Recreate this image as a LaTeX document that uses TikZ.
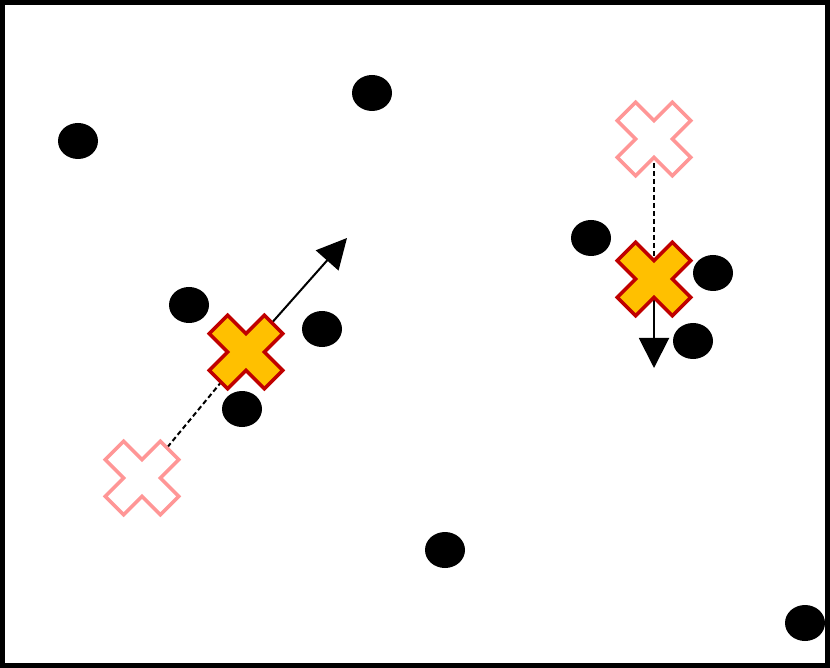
\documentclass[tikz,border=0pt]{standalone}
\usepackage{tikz}
\usetikzlibrary{arrows.meta}
\usetikzlibrary{shapes.geometric}

\definecolor{ghostred}{RGB}{255,150,150}
\definecolor{darkred}{RGB}{192,0,0}
\definecolor{gold}{RGB}{255,192,0}

\tikzset{
  xmark/.pic={\path[pic actions,rotate=45] (39,13)--(13,13)--(13,39)--(-13,39)--(-13,13)--(-39,13)--(-39,-13)--(-13,-13)--(-13,-39)--(13,-39)--(13,-13)--(39,-13)--cycle;}
}

\begin{document}
\begin{tikzpicture}[x=1pt,y=-1pt,
  dot/.style={ellipse,fill=black,minimum width=40pt,minimum height=36pt,inner sep=0pt},
  ghost/.style={draw=ghostred,fill=white,line width=3.5pt,line join=miter},
  centroid/.style={draw=darkred,fill=gold,line width=3.5pt,line join=miter},
  trail/.style={dash pattern=on 5pt off 3pt,line width=2pt},
  move/.style={line width=2pt,-{Triangle[length=30pt,width=30pt]}}]
 \useasboundingbox (0,0) rectangle (830,668);
 \fill[white] (0,0) rectangle (830,668);
 % data points
 \node[dot] (p1) at (78,141) {};
 \node[dot] (p2) at (372,93) {};
 \node[dot] (p3) at (189,305) {};
 \node[dot] (p4) at (322,329) {};
 \node[dot] (p5) at (242,409) {};
 \node[dot] (p6) at (591,238) {};
 \node[dot] (p7) at (713,273) {};
 \node[dot] (p8) at (693,341) {};
 \node[dot] (p9) at (445,550) {};
 \node[dot] (p10) at (805,623) {};
 % old and new centres
 \coordinate (g1) at (142,478);
 \coordinate (c1) at (246,352);
 \coordinate (t1) at (347,238);
 \coordinate (g2) at (654,139);
 \coordinate (c2) at (654,279);
 \coordinate (t2) at (654,368);
 \draw[trail] (g1) -- (c1);
 \draw[trail] (g2) -- (c2);
 \pic[ghost] at (g1) {xmark};
 \pic[ghost] at (g2) {xmark};
 \draw[move] (c1) -- (t1);
 \draw[move] (c2) -- (t2);
 \pic[centroid] at (c1) {xmark};
 \pic[centroid] at (c2) {xmark};
 \draw[line width=5pt] (2.5,2.5) rectangle (827.5,665.5);
\end{tikzpicture}
\end{document}
